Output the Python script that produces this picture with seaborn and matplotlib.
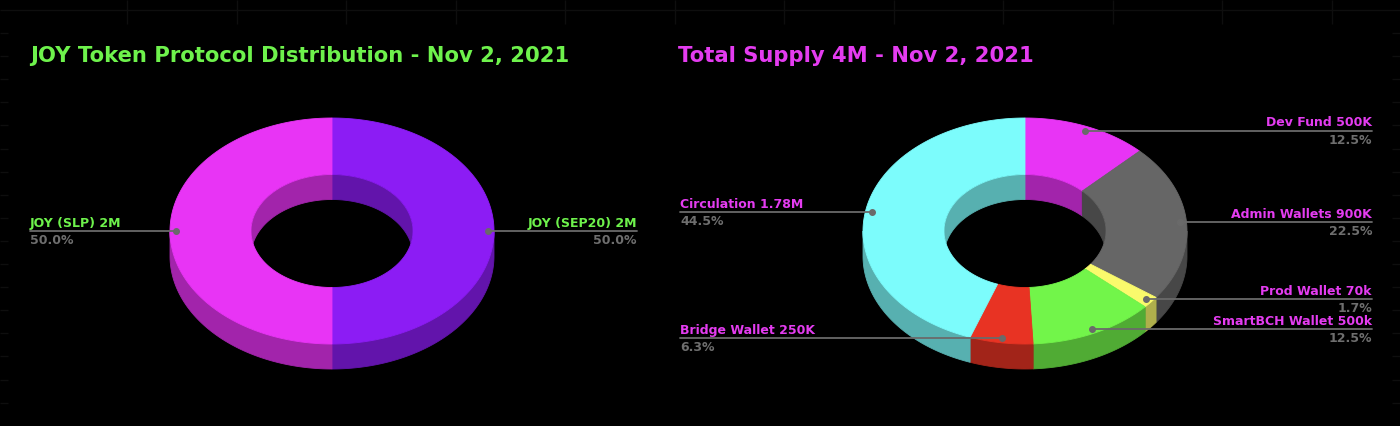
import numpy as np
import matplotlib
matplotlib.use("Agg")
import matplotlib.pyplot as plt
from matplotlib.patches import Polygon, Ellipse
from matplotlib.colors import to_rgb
import seaborn as sns

# ----------------------------
# Data
# ----------------------------
left_title = "JOY Token Protocol Distribution - Nov 2, 2021"
left_labels = ["JOY (SEP20) 2M", "JOY (SLP) 2M"]
left_pct = [50.0, 50.0]
left_colors = ["#8c1cf4", "#e834f5"]

right_title = "Total Supply 4M - Nov 2, 2021"
right_labels = ["Dev Fund 500K", "Admin Wallets 900K", "Prod Wallet 70k",
                "SmartBCH Wallet 500k", "Bridge Wallet 250K", "Circulation 1.78M"]
right_pct = [12.5, 22.5, 1.7, 12.5, 6.3, 44.5]
right_colors = ["#e834f5", "#666666", "#fafa6c", "#72f54a", "#e83323", "#7cfcfc"]

GREEN = "#6ef24c"
MAGENTA = "#e43cf0"
GREY_TXT = "#6e6e6e"

# donut geometry (pixels)
CY = 231
RX, RY = 162, 113
INNER = 0.5
DEPTH = 25

sns.set_style("dark")
plt.rcParams["font.family"] = ["DejaVu Sans"]

fig = plt.figure(figsize=(14, 4.26), dpi=100, facecolor="black")
ax = fig.add_axes([0, 0, 1, 1])
ax.set_facecolor("black")
ax.set_xlim(0, 1400)
ax.set_ylim(426, 0)
ax.axis("off")

# faint background grid bits
grid_c = "#0e0e0e"
ax.hlines(10, 0, 1400, color=grid_c, lw=1)
ax.vlines(np.arange(127, 1400, 109.5), 0, 24, color=grid_c, lw=1)
ax.hlines(np.arange(33, 420, 23.1), 0, 8, color=grid_c, lw=1)
ax.hlines(np.arange(33, 420, 23.1), 1392, 1400, color=grid_c, lw=1)


def arc(cx, cy, rx, ry, t1, t2):
    n = max(int(abs(t2 - t1) * 2), 2)
    t = np.radians(np.linspace(t1, t2, n))
    return np.column_stack([cx + rx * np.cos(t), cy - ry * np.sin(t)])


def clip_ranges(a, b, lo, hi):
    out = []
    for k in range(-2, 3):
        l, h = max(a, lo + 360 * k), min(b, hi + 360 * k)
        if h > l:
            out.append((l, h))
    return out


def darker(c, f=0.7):
    return tuple(np.array(to_rgb(c)) * f)


def donut(cx, pct, colors, labels, txt_color, xl, xr):
    fr = np.array(pct) / sum(pct)
    edges = 90 - 360 * np.concatenate([[0], np.cumsum(fr)])
    rix, riy = RX * INNER, RY * INNER
    hole = Ellipse((cx, CY), 2 * rix, 2 * riy, transform=ax.transData)

    # side walls
    for i, c in enumerate(colors):
        a, b = edges[i + 1], edges[i]
        dc = darker(c)
        for lo, hi in clip_ranges(a, b, -180, 0):
            pts = np.vstack([arc(cx, CY, RX, RY, lo, hi),
                             arc(cx, CY + DEPTH, RX, RY, hi, lo)])
            ax.add_patch(Polygon(pts, closed=True, fc=dc, ec=dc, lw=0.6, zorder=2))
        for lo, hi in clip_ranges(a, b, 0, 180):
            pts = np.vstack([arc(cx, CY, rix, riy, lo, hi),
                             arc(cx, CY + DEPTH, rix, riy, hi, lo)])
            p = Polygon(pts, closed=True, fc=dc, ec=dc, lw=0.6, zorder=2)
            ax.add_patch(p)
            p.set_clip_path(hole)

    # top faces
    for i, c in enumerate(colors):
        a, b = edges[i + 1], edges[i]
        pts = np.vstack([arc(cx, CY, RX, RY, a, b), arc(cx, CY, rix, riy, b, a)])
        ax.add_patch(Polygon(pts, closed=True, fc=c, ec=c, lw=0.6, zorder=3))

    # labels
    for i, lab in enumerate(labels):
        tm = np.radians((edges[i] + edges[i + 1]) / 2)
        dx = cx + 0.96 * RX * np.cos(tm)
        dy = CY - 0.96 * RY * np.sin(tm)
        if np.cos(tm) >= -1e-9:
            tx, ha = xr, "right"
        else:
            tx, ha = xl, "left"
        ax.plot([tx, dx], [dy, dy], color="#6a6a6a", lw=1.3, zorder=5)
        ax.plot(dx, dy, "o", ms=4, color="#6a6a6a", zorder=6)
        ax.text(tx, dy - 4.5, lab, color=txt_color, fontsize=9, fontweight="bold",
                ha=ha, va="baseline", zorder=7)
        ax.text(tx, dy + 13, f"{pct[i]:.1f}%", color=GREY_TXT, fontsize=9,
                fontweight="bold", ha=ha, va="baseline", zorder=7)


donut(332, left_pct, left_colors, left_labels, GREEN, 30, 637)
donut(1025, right_pct, right_colors, right_labels, MAGENTA, 680, 1372)

ax.text(30, 62.5, left_title, color=GREEN, fontsize=15.2, fontweight="bold", va="baseline")
ax.text(678, 62.5, right_title, color=MAGENTA, fontsize=15.2, fontweight="bold", va="baseline")

fig.savefig("out.png", dpi=100, facecolor="black")
